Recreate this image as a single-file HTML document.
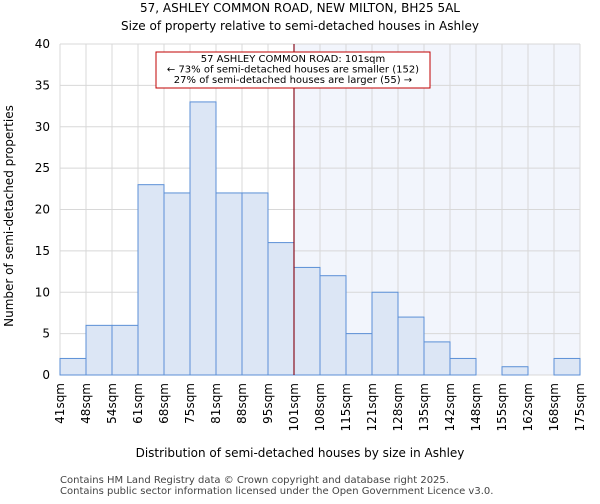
<!DOCTYPE html>
<html><head><meta charset="utf-8"><style>
body{margin:0;background:#fff;font-family:"DejaVu Sans","Liberation Sans",sans-serif;}
svg text{font-family:"DejaVu Sans","Liberation Sans",sans-serif;}
</style></head><body>
<svg id="c" width="600" height="500" xmlns="http://www.w3.org/2000/svg">
<text x="300" y="12" text-anchor="middle" font-size="12">57, ASHLEY COMMON ROAD, NEW MILTON, BH25 5AL</text>
<text x="300" y="30" text-anchor="middle" font-size="12">Size of property relative to semi-detached houses in Ashley</text>
<g id="plot"></g>
<text x="300" y="457" text-anchor="middle" font-size="12">Distribution of semi-detached houses by size in Ashley</text>
<text transform="translate(13,216) rotate(-90)" text-anchor="middle" font-size="12">Number of semi-detached properties</text>
<text x="60" y="483" font-size="10" fill="#444">Contains HM Land Registry data © Crown copyright and database right 2025.</text>
<text x="60" y="494" font-size="10" fill="#444">Contains public sector information licensed under the Open Government Licence v3.0.</text>
</svg>
<script>
const categories=["41sqm","48sqm","54sqm","61sqm","68sqm","75sqm","81sqm","88sqm","95sqm","101sqm","108sqm","115sqm","121sqm","128sqm","135sqm","142sqm","148sqm","155sqm","162sqm","168sqm","175sqm"];
const counts=[2,6,6,23,22,33,22,22,16,13,12,5,10,7,4,2,0,1,0,2];
const yTicks=[0,5,10,15,20,25,30,35,40];
const markerIndex=9;
const NS="http://www.w3.org/2000/svg";
const L=60,R=580,T=44,B=375,yMax=40;
const n=counts.length,bw=(R-L)/n;
const xs=i=>L+i*bw;
const ys=v=>B-(v/yMax)*(B-T);
const g=document.getElementById('plot');
function mk(tag,a){const e=document.createElementNS(NS,tag);for(const k in a)e.setAttribute(k,a[k]);g.appendChild(e);return e;}
let e=mk('rect',{x:xs(markerIndex),y:T,width:R-xs(markerIndex),height:B-T,fill:'#f2f5fc'});


yTicks.forEach(t=>{
 let l=mk('line',{x1:L,x2:R,y1:ys(t),y2:ys(t),stroke:'#d8d8d8','stroke-width':1});
 
 
 let tx=mk('text',{x:L-10,y:ys(t)+4,'text-anchor':'end','font-size':12});
 tx.textContent=t;
 
 
});
categories.forEach((c,i)=>{
 let l=mk('line',{x1:xs(i),x2:xs(i),y1:T,y2:B,stroke:'#d8d8d8','stroke-width':1});
 
 
 let tx=mk('text',{transform:`translate(${xs(i)+4},${B+8}) rotate(-90)`,'text-anchor':'end','font-size':12});
 tx.textContent=c;
 
 
});
counts.forEach((v,i)=>{
 if(v<=0)return;
 let r=mk('rect',{x:xs(i),y:ys(v),width:bw,height:B-ys(v),fill:'#dce6f5',stroke:'#5b8fd6','stroke-width':1});
 
 
});
let ml=mk('line',{x1:xs(markerIndex),x2:xs(markerIndex),y1:T,y2:B,stroke:'#8a1020','stroke-width':1.2});


let bx=mk('rect',{x:156,y:52,width:274,height:36,fill:'#fff',stroke:'#c00000','stroke-width':1});


["57 ASHLEY COMMON ROAD: 101sqm","← 73% of semi-detached houses are smaller (152)","27% of semi-detached houses are larger (55) →"].forEach((s,i)=>{
 let t=mk('text',{x:293,y:62+i*10.5,'text-anchor':'middle','font-size':10});
 t.textContent=s;
 
 
});
</script>
</body></html>
